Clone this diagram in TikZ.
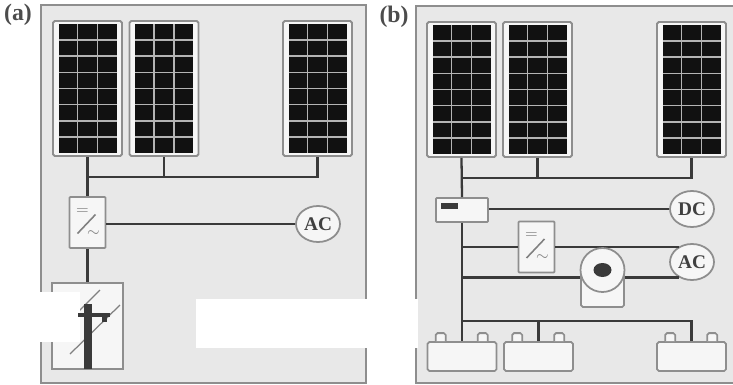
\documentclass[tikz,border=0pt]{standalone}
\usepackage{fontspec}
\usepackage{xcolor}
\usetikzlibrary{calc,shapes.geometric}
\setmainfont{Liberation Serif}
\definecolor{panelgray}{HTML}{E8E8E8}
\definecolor{edgegray}{HTML}{8E8E8E}
\definecolor{wiredark}{HTML}{3A3A3A}
\definecolor{cellblack}{HTML}{111111}
\definecolor{gridgray}{HTML}{B4B4B4}
\definecolor{boxwhite}{HTML}{F6F6F6}
\tikzset{
  framebox/.style={draw=edgegray,line width=1.1pt},
  solarbox/.style={draw=edgegray,line width=1.1pt,fill=boxwhite,rounded corners=1pt,inner sep=0pt,minimum width=1.38cm,minimum height=2.7cm},
  inverterbox/.style={draw=edgegray,line width=1pt,fill=boxwhite,rounded corners=0.5pt,inner sep=0pt,minimum width=0.72cm,minimum height=1.02cm},
  loadnode/.style={ellipse,draw=edgegray,line width=1pt,fill=boxwhite,inner sep=0pt,minimum width=0.88cm,minimum height=0.72cm,text=black!75,font=\fontsize{11}{12}\selectfont\bfseries},
  batterybox/.style={draw=edgegray,line width=1pt,fill=boxwhite,rounded corners=1pt,inner sep=0pt,minimum width=1.38cm,minimum height=0.58cm},
  panellabel/.style={font=\fontsize{13.5}{15}\selectfont\bfseries,text=black!70,inner sep=0pt},
  wire/.style={draw=wiredark,line width=1.3pt},
  glyph/.style={inner sep=0pt,text=gray,font=\small}
}
\begin{document}
\begin{tikzpicture}[x=0.02cm,y=-0.02cm]
    \useasboundingbox (0,0) rectangle (733,385);
    \fill[panelgray] (41,5) rectangle (366,383);
    \draw[framebox] (41,5) rectangle (366,383);
    \fill[panelgray] (416,5) rectangle (733,383);
    \draw[framebox] (733,6) -- (416,6) -- (416,383) -- (733,383);
    \node[panellabel] (labela) at (18,15) {(a)};
    \node[panellabel] (labelb) at (394,17) {(b)};

    \node[solarbox] (pa1) at (87.5,88.5) {};
    \node[solarbox] (pa2) at (164,88.5) {};
    \node[solarbox] (pa3) at (317.5,88.5) {};
    \node[solarbox] (pb1) at (461.5,89.5) {};
    \node[solarbox] (pb2) at (537.5,89.5) {};
    \node[solarbox] (pb3) at (691.5,89.5) {};
    \foreach \p in {pa1,pa2,pa3,pb1,pb2,pb3} {
      \fill[cellblack] ($(\p.center)+(-29,-64.5)$) rectangle ($(\p.center)+(29,64.5)$);
      \foreach \col in {-1,1}
        \draw[gridgray,line width=1pt] ($(\p.center)+(\col*10,-64.5)$) -- ($(\p.center)+(\col*10,64.5)$);
      \foreach \row in {-3,...,3}
        \draw[gridgray,line width=0.9pt] ($(\p.center)+(-29,\row*16.2)$) -- ($(\p.center)+(29,\row*16.2)$);
    }

    \node[inverterbox] (inva) at (87.5,222.5) {};
    \node[loadnode] (aca) at (318,224) {AC};
    \node[draw=edgegray,line width=1pt,fill=boxwhite,inner sep=0pt,minimum width=1.42cm,minimum height=1.72cm] (polebox) at (87.5,326) {};
    \coordinate (busa) at (87.5,177);
    \draw[wire] (pa1.south) -- (inva.north);
    \draw[wire] (pa2.south) |- (busa);
    \draw[wire] (pa3.south) |- (busa);
    \draw[wire] (inva.south) -- (polebox.north);
    \draw[wire] (inva.east |- aca) -- (aca.west);
    \draw[gray,line width=0.7pt] (70,354) -- (120,305);
    \draw[gray,line width=0.7pt] (100,290) -- (60,330);
    \fill[white] (36,292) rectangle (80,342);
    \fill[wiredark] (83.5,304) rectangle (92,369);
    \fill[wiredark] (78,312.5) rectangle (110,317);
    \fill[wiredark] (102,317) rectangle (107,322);

    \node[draw=edgegray,line width=1pt,fill=boxwhite,rounded corners=0.5pt,inner sep=0pt,minimum width=1.04cm,minimum height=0.48cm] (ctrl) at (462,210) {};
    \fill[wiredark] (441,203) rectangle (458,209);
    \node[loadnode] (dc) at (692,209) {DC};
    \node[loadnode] (acb) at (692,262) {AC};
    \node[inverterbox] (invb) at (536.5,247) {};
    \node[batterybox] (bat1) at (462,356.5) {};
    \node[batterybox] (bat2) at (538.5,356.5) {};
    \node[batterybox] (bat3) at (691.5,356.5) {};
    \coordinate (busb) at (462,321);
    \coordinate (busc) at (462,178);
    \draw[wire] (pb1.south) -- (ctrl.north);
    \draw[wire] (pb2.south) |- (busc);
    \draw[wire] (pb3.south) |- (busc);
    \draw[wire] (ctrl.south) -- (bat1.north);
    \draw[wire] (ctrl.east |- dc) -- (dc.west);
    \draw[wire] (invb.west) -- (invb.west -| ctrl.south);
    \draw[wire] (invb.east) -- (invb.east -| acb.130);
    \draw[wire] (acb.230) -- (acb.230 -| ctrl.south);
    \draw[wire] (bat2.north) |- (busb);
    \draw[wire] (bat3.north) |- (busb);
    \foreach \b in {bat1,bat2,bat3} {
      \foreach \off in {9,51}
        \draw[draw=edgegray,line width=1pt,fill=boxwhite,rounded corners=1pt] ($(\b.north west)+(\off,0)$) |- ++(10,-8) -- ++(0,8);
    }

    \node[draw=edgegray,line width=1pt,fill=boxwhite,rounded corners=1pt,inner sep=0pt,minimum width=0.86cm,minimum height=0.72cm] (motorbody) at (602.5,289) {};
    \node[circle,draw=edgegray,line width=1pt,fill=boxwhite,inner sep=0pt,minimum size=0.88cm] (motorhead) at (602.5,270) {};
    \node[ellipse,fill=wiredark,inner sep=0pt,minimum width=0.36cm,minimum height=0.28cm] (rotor) at (motorhead) {};

    \foreach \q in {inva,invb} {
      \draw[gray,line width=0.9pt] ($(\q.center)+(-10,11)$) -- ($(\q.center)+(8,-8)$);
      \node[glyph] at ($(\q.center)+(-5,-11)$) {$=$};
      \node[glyph] at ($(\q.center)+(6,11)$) {$\sim$};
    }

    \fill[white] (196,299) rectangle (418,348);
\end{tikzpicture}
\end{document}
